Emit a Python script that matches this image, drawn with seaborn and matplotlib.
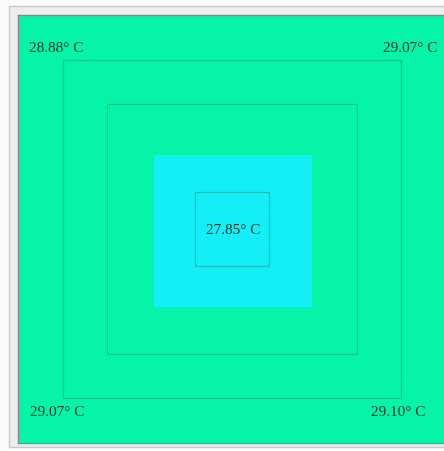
import numpy as np
import matplotlib
matplotlib.use("Agg")
import matplotlib.pyplot as plt
import seaborn as sns
from matplotlib.colors import ListedColormap
from matplotlib.patches import Rectangle

# Measured surface temperatures (deg C)
corner_labels = ["TL", "TR", "BL", "BR"]
corner_temps = [28.88, 29.07, 29.07, 29.10]
center_temp = 27.85

# Colour bands: warm outer floor, cool core
band_colors = ["#06F4A8", "#14EEF6"]

sns.set_style("white")
plt.rcParams["font.family"] = ["Liberation Serif", "DejaVu Serif"]

# Floor grid: N cells across, each cell 2 px in the saved image
N = 214
half = N / 2
core_x = (67.5, 147.5)
core_y = (69.5, 146.0)
contour_halves = [84.5, 62.3, 18.4]

cx = np.arange(N) + 0.5
in_x = (cx > core_x[0]) & (cx < core_x[1])
in_y = (cx > core_y[0]) & (cx < core_y[1])
field = (in_y[:, None] & in_x[None, :]).astype(int)

fig = plt.figure(figsize=(4.44, 4.52), dpi=100)
fig.patch.set_facecolor("#FBFBFB")
W, H = 444.0, 452.0


def fig_rect(x0, y0, x1, y1, **kw):
    """Rectangle in figure pixel coords (top-left origin)."""
    fig.patches.append(Rectangle((x0 / W, 1 - y1 / H), (x1 - x0) / W, (y1 - y0) / H,
                                 transform=fig.transFigure, figure=fig, **kw))


# panel frame around the plotted floor
fig_rect(8.5, 6.5, 460, 447.5, facecolor="#EDEDED", edgecolor="#C9C9C9", lw=1.0, zorder=-1)

ax = fig.add_axes([18 / W, 1 - 444 / H, 428 / W, 428 / H])
ax.set_zorder(2)
sns.heatmap(field, cmap=ListedColormap(band_colors), vmin=0, vmax=1, cbar=False,
            xticklabels=False, yticklabels=False, ax=ax, rasterized=True)
ax.set_xlim(0, N)
ax.set_ylim(N, 0)

# isotherm outlines
for h in contour_halves:
    ax.add_patch(Rectangle((half - h, half - h), 2 * h, 2 * h, fill=False,
                           edgecolor=(0.05, 0.35, 0.25, 0.28), lw=0.9, zorder=3))

for s in ax.spines.values():
    s.set_visible(True)
    s.set_color("#8A8A8A")
    s.set_linewidth(1.0)

txt_kw = dict(color="#173A2C", fontsize=11, va="center", zorder=4)


def label(t):
    return f"{t:.2f}\u00b0 C"


pos = {"TL": (5.5, 16, "left"), "TR": (209.5, 16, "right"),
       "BL": (6, 198.5, "left"), "BR": (203.5, 198.5, "right")}
for name, t in zip(corner_labels, corner_temps):
    x, y, ha = pos[name]
    ax.text(x, y, label(t), ha=ha, **txt_kw)
ax.text(107.8, 107.5, label(center_temp), ha="center", **txt_kw)

fig.savefig("out.png", dpi=100)
